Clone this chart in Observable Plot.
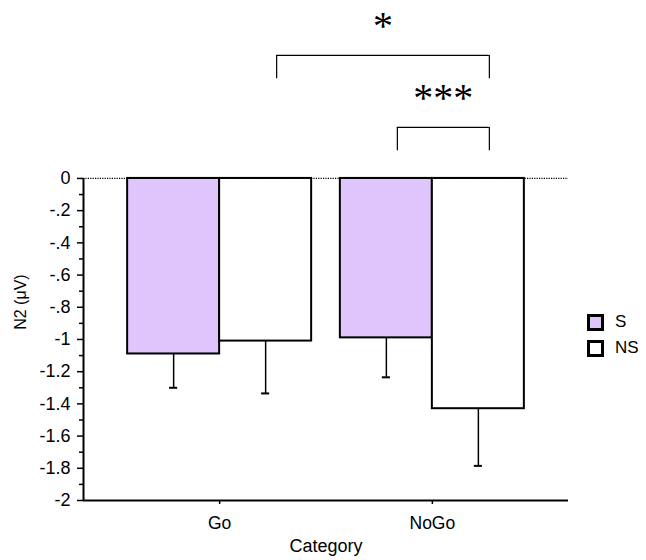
<!DOCTYPE html>
<html>
<head>
<meta charset="utf-8">
<script src="https://cdn.jsdelivr.net/npm/d3@7"></script>
<script src="https://cdn.jsdelivr.net/npm/@observablehq/plot@0.6"></script>
<style>
  html, body { margin: 0; padding: 0; background: white; }
  #wrap { position: relative; width: 646px; height: 560px; font-family: "Liberation Sans", Arial, sans-serif; }
  #legend { position: absolute; left: 587px; top: 313px; font-size: 17px; color: black; }
  .row { display: flex; align-items: center; height: 18px; margin-bottom: 8px; }
  .sw { width: 17px; height: 17px; box-sizing: border-box; border: 3px solid black; margin-right: 11px; }
</style>
</head>
<body>
<div id="wrap"></div>
<script>
// ---- data ----
const categories = ["Go", "NoGo"];
const seriesNames = ["S", "NS"];
const seriesColors = ["#e0c4fc", "#ffffff"];
const sMeans = [-1.09, -0.99];
const sErrors = [0.21, 0.245];
const nsMeans = [-1.01, -1.43];
const nsErrors = [0.325, 0.355];
const yTicks = [0, -0.2, -0.4, -0.6, -0.8, -1, -1.2, -1.4, -1.6, -1.8, -2];
const yTickLabels = ["0", "-.2", "-.4", "-.6", "-.8", "-1", "-1.2", "-1.4", "-1.6", "-1.8", "-2"];
const yMinorTicks = [-0.1, -0.3, -0.5, -0.7, -0.9, -1.1, -1.3, -1.5, -1.7, -1.9];
const compFrom = [["Go", "NS"], ["NoGo", "S"]];
const compTo = [["NoGo", "NS"], ["NoGo", "NS"]];
const compLabels = ["*", "***"];
const compLevels = [1, 0];

// ---- layout ----
const halfWidth = 0.4325;
const xDomain = [-0.64, 1.64];
const yDomain = [-2, 1.105];
const fs = 17.5;

const rows = categories.flatMap((c, i) => seriesNames.map((s, j) => {
  const mean = j === 0 ? sMeans[i] : nsMeans[i];
  const err = j === 0 ? sErrors[i] : nsErrors[i];
  const x1 = i + (j - 1) * halfWidth;
  return {category: c, series: s, mean, err, x1, x2: x1 + halfWidth, xc: x1 + halfWidth / 2, lo: mean - err};
}));
const centerOf = ([c, s]) => rows.find(r => r.category === c && r.series === s).xc;
const brackets = compLabels.map((label, k) => {
  const top = 0.317 + compLevels[k] * 0.447;
  return {label, x1: centerOf(compFrom[k]), x2: centerOf(compTo[k]), top, bottom: top - 0.145};
});

const chart = Plot.plot({
  width: 646,
  height: 560,
  marginLeft: 83,
  marginRight: 78,
  marginTop: 0,
  marginBottom: 60,
  style: {fontFamily: "'Liberation Sans', Arial, sans-serif", fontSize: fs + "px", color: "black", background: "white"},
  x: {type: "linear", domain: xDomain},
  y: {domain: yDomain},
  color: {domain: seriesNames, range: seriesColors},
  marks: [
    Plot.rectY(rows, {x1: "x1", x2: "x2", y1: 0, y2: "mean", fill: "series", stroke: "black", strokeWidth: 2}),
    Plot.ruleX(rows, {x: "xc", y1: "mean", y2: "lo", stroke: "black", strokeWidth: 1.5}),
    Plot.ruleY(rows, {y: "lo", x1: d => d.xc - 0.019, x2: d => d.xc + 0.019, stroke: "black", strokeWidth: 2}),
    Plot.ruleY([0], {stroke: "black", strokeWidth: 1.2, strokeDasharray: "1.2,1.2"}),
    Plot.ruleY([-2], {stroke: "black", strokeWidth: 2}),
    Plot.ruleX([xDomain[0]], {y1: -2, y2: 0, stroke: "black", strokeWidth: 2}),
    Plot.axisY({ticks: yTicks, tickFormat: d => yTickLabels[yTicks.indexOf(d)], tickSize: 6, tickPadding: 7, label: null, strokeWidth: 1.5, fontSize: 18}),
    Plot.axisY({ticks: yMinorTicks, tickFormat: () => "", tickSize: 4, label: null, strokeWidth: 1.5}),
    Plot.axisX({ticks: categories.map((c, i) => i), tickFormat: i => categories[i], tickSize: 4, tickPadding: 12, label: null, strokeWidth: 1.5, fontSize: fs}),
    Plot.text(["Category"], {x: (categories.length - 1) / 2, y: -2, dy: 39, lineAnchor: "top", fontSize: 18}),
    Plot.text(["N2 (\u03BCV)"], {frameAnchor: "left", y: -0.94, dx: -63, rotate: -90, fontSize: 16}),
    // significance brackets
    Plot.ruleY(brackets, {y: "top", x1: "x1", x2: "x2", dx: 11, stroke: "black", strokeWidth: 1.2}),
    Plot.ruleX(brackets, {x: "x1", y1: "bottom", y2: "top", dx: 11, stroke: "black", strokeWidth: 1.2}),
    Plot.ruleX(brackets, {x: "x2", y1: "bottom", y2: "top", dx: 11, stroke: "black", strokeWidth: 1.2}),
    Plot.text(brackets, {x: d => (d.x1 + d.x2) / 2, y: "top", text: "label", dx: 11, dy: -29, fontSize: 40, fontFamily: "'Liberation Serif', serif"})
  ]
});

const wrap = document.getElementById("wrap");
wrap.appendChild(chart);
const legend = document.createElement("div");
legend.id = "legend";
seriesNames.forEach((s, i) => {
  const row = document.createElement("div");
  row.className = "row";
  const sw = document.createElement("div");
  sw.className = "sw";
  sw.style.background = seriesColors[i];
  const t = document.createElement("span");
  t.textContent = s;
  row.appendChild(sw);
  row.appendChild(t);
  legend.appendChild(row);
});
wrap.appendChild(legend);
</script>
</body>
</html>
